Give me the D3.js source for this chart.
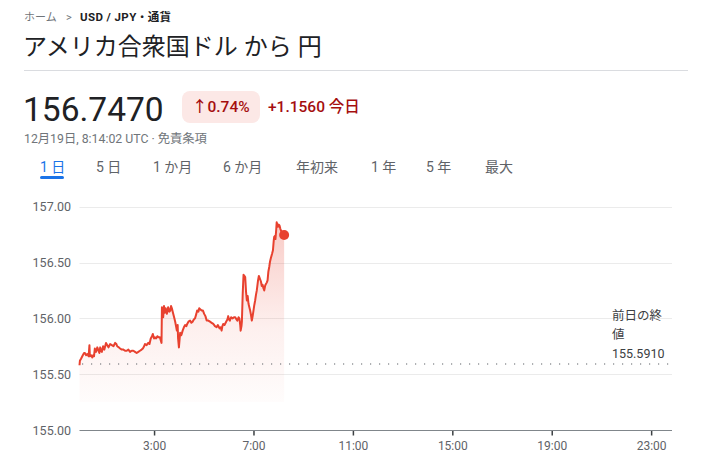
<!DOCTYPE html>
<html><head><meta charset="utf-8">
<script src="https://cdn.jsdelivr.net/npm/d3@7"></script>
<style>
html,body{margin:0;padding:0;background:#fff;}
svg{display:block;font-family:Roboto,"Noto Sans CJK JP",sans-serif;}
</style></head>
<body><svg id="c" width="701" height="464"></svg>
<script>
// ---- data ----
const timeMinutes = [0,1,4,8,11,13,16,19,22,24,25,28,31,33,35,37,40,43,45,48,50,52,54,57,60,64,67,70,74,78,82,86,89,91,95,98,102,106,110,114,118,122,126,130,134,138,142,146,150,153,156,158,162,166,169,172,175,177,180,182,185,188,191,194,198,199,200,202,204,206,208,211,214,217,219,221,223,225,227,229,231,233,235,237,238,240,242,243,246,249,252,255,258,260,263,267,270,273,276,279,282,284,287,289,292,295,298,301,304,307,311,315,319,323,327,331,334,338,341,343,345,347,350,354,357,359,361,363,366,370,373,376,379,381,384,386,388,389,391,392,394,396,398,400,402,404,406,408,410,412,414,416,418,420,422,424,426,428,431,433,436,438,440,442,444,446,448,449,452,454,456,458,460,462,465,467,469,470,472,473,475,476,478,479,481,483,485,486,488,491,494];
const prices = [155.58,155.62,155.64,155.67,155.69,155.69,155.67,155.68,155.66,155.76,155.66,155.67,155.65,155.67,155.66,155.73,155.70,155.74,155.72,155.69,155.74,155.71,155.70,155.75,155.72,155.78,155.76,155.74,155.77,155.76,155.75,155.78,155.77,155.75,155.74,155.73,155.72,155.72,155.71,155.71,155.72,155.70,155.71,155.71,155.70,155.69,155.70,155.71,155.72,155.73,155.75,155.77,155.76,155.78,155.77,155.82,155.84,155.86,155.82,155.83,155.82,155.84,155.83,155.83,155.78,156.10,156.02,156.01,156.11,156.05,156.09,156.04,156.10,156.06,156.07,156.11,156.09,156.06,156.03,156.00,155.97,155.93,155.89,155.94,155.82,155.74,155.83,155.87,155.85,155.89,155.92,155.94,155.93,155.95,155.97,155.98,155.96,155.97,155.99,156.00,156.04,156.07,156.06,156.09,156.08,156.07,156.07,156.04,156.02,155.98,155.98,155.97,155.96,155.95,155.93,155.92,155.94,155.91,155.92,155.89,155.93,155.95,155.94,155.97,155.99,156.02,155.99,155.98,156.01,156.00,156.01,156.01,155.99,155.98,156.01,156.00,155.94,155.89,155.93,155.97,156.22,156.39,156.38,156.37,156.24,156.16,156.20,156.13,156.10,156.07,156.03,155.98,156.02,156.07,156.12,156.16,156.21,156.25,156.34,156.38,156.35,156.33,156.29,156.30,156.27,156.25,156.29,156.30,156.32,156.34,156.42,156.46,156.51,156.54,156.58,156.61,156.70,156.73,156.74,156.71,156.80,156.86,156.83,156.82,156.84,156.83,156.80,156.79,156.77,156.75,156.747];
const previousClose = 155.591;
const yTicks = [155.00,155.50,156.00,156.50,157.00];
const xTickMinutes = [180,420,660,900,1140,1380];
const xTickLabels = ["3:00","7:00","11:00","15:00","19:00","23:00"];
const tabs = ["1 日","5 日","1 か月","6 か月","年初来","1 年","5 年","最大"];
const currentPrice = "156.7470";
const changePct = "0.74%";
const changeAbs = "+1.1560";

const svg = d3.select("#c");
const red = "#e8412f";

// ---- header ----
svg.append("text").attr("x",24).attr("y",21).attr("font-size",11).attr("fill","#70757a").text("ホーム");
svg.append("text").attr("x",66).attr("y",21).attr("font-size",11).attr("fill","#70757a").text(">");
svg.append("text").attr("x",80).attr("y",21).attr("font-size",11.5).attr("letter-spacing",0.4).attr("font-weight",700).attr("fill","#202124").text("USD / JPY • 通貨");
svg.append("text").attr("x",23).attr("y",55).attr("font-size",24).attr("fill","#202124").text("アメリカ合衆国ドル から 円");
svg.append("line").attr("x1",24).attr("x2",688).attr("y1",70.5).attr("y2",70.5).attr("stroke","#dadce0");

svg.append("text").attr("x",23).attr("y",121).attr("font-size",33.5).attr("fill","#202124").text(currentPrice);
svg.append("rect").attr("x",182).attr("y",91).attr("width",78).attr("height",32).attr("rx",8).attr("fill","#fce8e6");
svg.append("text").attr("x",192).attr("y",112).attr("font-size",15.5).attr("font-weight",500).attr("fill","#a50e0e").text("↑" + changePct);
svg.append("text").attr("x",268).attr("y",112).attr("font-size",15.5).attr("font-weight",500).attr("fill","#a50e0e").text(changeAbs + " 今日");
svg.append("text").attr("x",24).attr("y",143).attr("font-size",12.3).attr("fill","#70757a").text("12月19日, 8:14:02 UTC · 免責条項");

const tabX = [40,96,153,223,296,371,426,485];
tabs.forEach((t,i)=>{
  svg.append("text").attr("x",tabX[i]).attr("y",172).attr("font-size",14)
    .attr("fill", i===0 ? "#1a73e8" : "#5f6368").text(t);
});
svg.append("rect").attr("x",40).attr("y",176).attr("width",24).attr("height",3).attr("rx",1.5).attr("fill","#1a73e8");

// ---- chart ----
const x = d3.scaleLinear().domain([0,1440]).range([79.5,676]);
const y = d3.scaleLinear().domain([155,157]).range([430,206.7]);
const data = timeMinutes.map((t,i)=>({t, v:prices[i]}));

// gridlines
svg.append("g").selectAll("line").data(yTicks.slice(1)).join("line")
  .attr("x1",79.5).attr("x2",672).attr("y1",d=>Math.round(y(d))+0.5).attr("y2",d=>Math.round(y(d))+0.5)
  .attr("stroke","#ebebeb");

// y labels
svg.append("g").selectAll("text").data(yTicks).join("text")
  .attr("x",71).attr("y",d=>y(d)+4.5).attr("text-anchor","end").attr("font-size",12.5).attr("fill","#5f6368")
  .text(d=>d3.format(".2f")(d));

// area gradient
const defs = svg.append("defs");
const grad = defs.append("linearGradient").attr("id","g").attr("gradientUnits","userSpaceOnUse")
  .attr("x1",0).attr("x2",0).attr("y1",y(156.9)).attr("y2",402);
grad.append("stop").attr("offset",0).attr("stop-color",red).attr("stop-opacity",0.28);
grad.append("stop").attr("offset",0.6).attr("stop-color",red).attr("stop-opacity",0.08);
grad.append("stop").attr("offset",1).attr("stop-color",red).attr("stop-opacity",0.015);

svg.append("path").datum(data)
  .attr("d", d3.area().x(d=>x(d.t)).y0(402).y1(d=>y(d.v)))
  .attr("fill","url(#g)");

// previous close dotted line
svg.append("line").attr("x1",82).attr("x2",672).attr("y1",y(previousClose)).attr("y2",y(previousClose))
  .attr("stroke","#5f6368").attr("stroke-width",1.2).attr("stroke-dasharray","1.2,7.8");

// line
svg.append("path").datum(data)
  .attr("d", d3.line().x(d=>x(d.t)).y(d=>y(d.v)))
  .attr("fill","none").attr("stroke",red).attr("stroke-width",2).attr("stroke-linejoin","round");

const last = data[data.length-1];
svg.append("circle").attr("cx",x(last.t)).attr("cy",y(last.v)).attr("r",5).attr("fill",red);

// previous close label
const lab = svg.append("text").attr("font-size",12.5).attr("fill","#3c4043");
lab.append("tspan").attr("x",612).attr("y",320).text("前日の終");
lab.append("tspan").attr("x",612).attr("y",339).text("値");
lab.append("tspan").attr("x",612).attr("y",358).text(d3.format(".4f")(previousClose));

// x axis
const xAxis = d3.axisBottom(x).tickValues(xTickMinutes).tickFormat((d,i)=>xTickLabels[i]).tickSize(5).tickSizeOuter(0);
const gx = svg.append("g").attr("transform","translate(0,430.5)").call(xAxis);
gx.select(".domain").remove();
gx.append("line").attr("x1",79.5).attr("x2",672).attr("stroke","#80868b");
gx.selectAll(".tick line").attr("stroke","#3c4043").attr("stroke-width",1.5);
gx.selectAll(".tick text").attr("font-size",12).attr("fill","#5f6368").attr("dy","0.95em")
  .attr("font-family","Roboto,sans-serif");
</script></body></html>
